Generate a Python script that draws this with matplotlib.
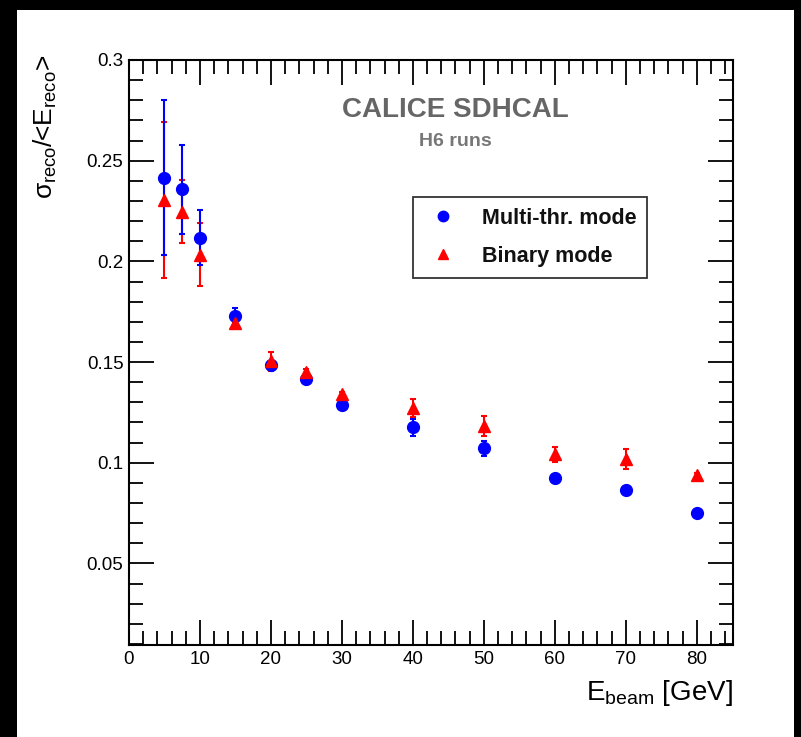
import numpy as np
import matplotlib.pyplot as plt
from matplotlib.patches import Rectangle
from matplotlib.lines import Line2D
from matplotlib.ticker import MultipleLocator

plt.rcParams['font.family'] = ['Liberation Sans', 'DejaVu Sans']
plt.rcParams['mathtext.fontset'] = 'custom'
plt.rcParams['mathtext.rm'] = 'Liberation Sans'
plt.rcParams['mathtext.it'] = 'Liberation Sans'

# beam energies [GeV]
energies = [5, 7.5, 10, 15, 20, 25, 30, 40, 50, 60, 70, 80]

# multi-threshold mode resolution
multi = [0.2415, 0.2357, 0.2117, 0.1729, 0.1487, 0.1414, 0.1285, 0.1177, 0.1073, 0.0925, 0.0867, 0.0749]
multi_err = [0.0385, 0.022, 0.0136, 0.0037, 0.002, 0.0023, 0.0015, 0.0042, 0.0037, 0.001, 0.001, 0.001]

# binary mode resolution
binary = [0.2304, 0.2246, 0.2034, 0.1693, 0.1504, 0.145, 0.1343, 0.1273, 0.1182, 0.1041, 0.102, 0.094]
binary_err = [0.0387, 0.0157, 0.0155, 0.0025, 0.0048, 0.0015, 0.001, 0.0044, 0.0049, 0.0035, 0.005, 0.001]

fig = plt.figure(figsize=(8.01, 7.37), dpi=100)
fig.patch.set_facecolor('black')
# white page inside the black screenshot frame
page = Rectangle((17/801, 0), 777/801, 1 - 10/737, transform=fig.transFigure,
                 facecolor='white', edgecolor='none', zorder=-10)
fig.add_artist(page)

ax = fig.add_axes([129/801, 1 - 645/737, 604/801, 585/737])
ax.set_zorder(1)

# red error bars first, then blue points, red markers on top
ax.errorbar(energies, binary, yerr=binary_err, fmt='none', ecolor='red',
            elinewidth=1.5, capsize=2.5, capthick=1.5, zorder=2)
ax.errorbar(energies, multi, yerr=multi_err, fmt='o', color='blue', ms=8.5,
            ecolor='blue', elinewidth=1.5, capsize=2.5, capthick=1.5, zorder=3)
ax.plot(energies, binary, '^', color='red', ms=9, zorder=4)

ax.set_xlim(0, 85.1)
ax.set_ylim(0.0095, 0.3)
ax.xaxis.set_major_locator(MultipleLocator(10))
ax.xaxis.set_minor_locator(MultipleLocator(2))
ax.yaxis.set_major_locator(MultipleLocator(0.05))
ax.yaxis.set_minor_locator(MultipleLocator(0.01))
ax.set_yticks([0.05, 0.1, 0.15, 0.2, 0.25, 0.3])
ax.set_yticklabels(['0.05', '0.1', '0.15', '0.2', '0.25', '0.3'])
ax.set_xticks(range(0, 81, 10))
ax.tick_params(which='both', direction='in', top=True, right=True, width=1.3,
               labelsize=13.5, labelcolor='black')
ax.tick_params(which='major', length=18, pad=4)
ax.tick_params(which='minor', length=10)
for s in ax.spines.values():
    s.set_linewidth(1.5)

ax.text(0.54, 0.915, 'CALICE SDHCAL', transform=ax.transAxes, ha='center', va='center',
        fontsize=20, fontweight='bold', color='#666666')
ax.text(0.54, 0.86, 'H6 runs', transform=ax.transAxes, ha='center', va='center',
        fontsize=14, fontweight='bold', color='#777777')

handles = [Line2D([], [], ls='none', marker='o', color='blue', ms=7.5),
           Line2D([], [], ls='none', marker='^', color='red', ms=7)]
leg = ax.legend(handles, ['Multi-thr. mode', 'Binary mode'], loc='upper left',
                bbox_to_anchor=((413 - 129)/604, (645 - 197)/585),
                frameon=True, fancybox=False, edgecolor='black',
                prop={'weight': 'bold', 'size': 15.5}, handletextpad=0.9,
                borderpad=0.5, labelspacing=0.8, handlelength=1.8,
                borderaxespad=0)
leg.get_frame().set_linewidth(1.3)
for t in leg.get_texts():
    t.set_color('#111111')

fig.text(0.057, 1 - 55/737, r'$\sigma_{\rm reco}$/<E$_{\rm reco}$>', rotation=90,
         ha='center', va='top', fontsize=19)
fig.text(733/801, 1 - 700/737, r'E$_{\rm beam}$ [GeV]', ha='right', va='baseline',
         fontsize=20)

fig.savefig('out.png', dpi=100, facecolor=fig.get_facecolor())
